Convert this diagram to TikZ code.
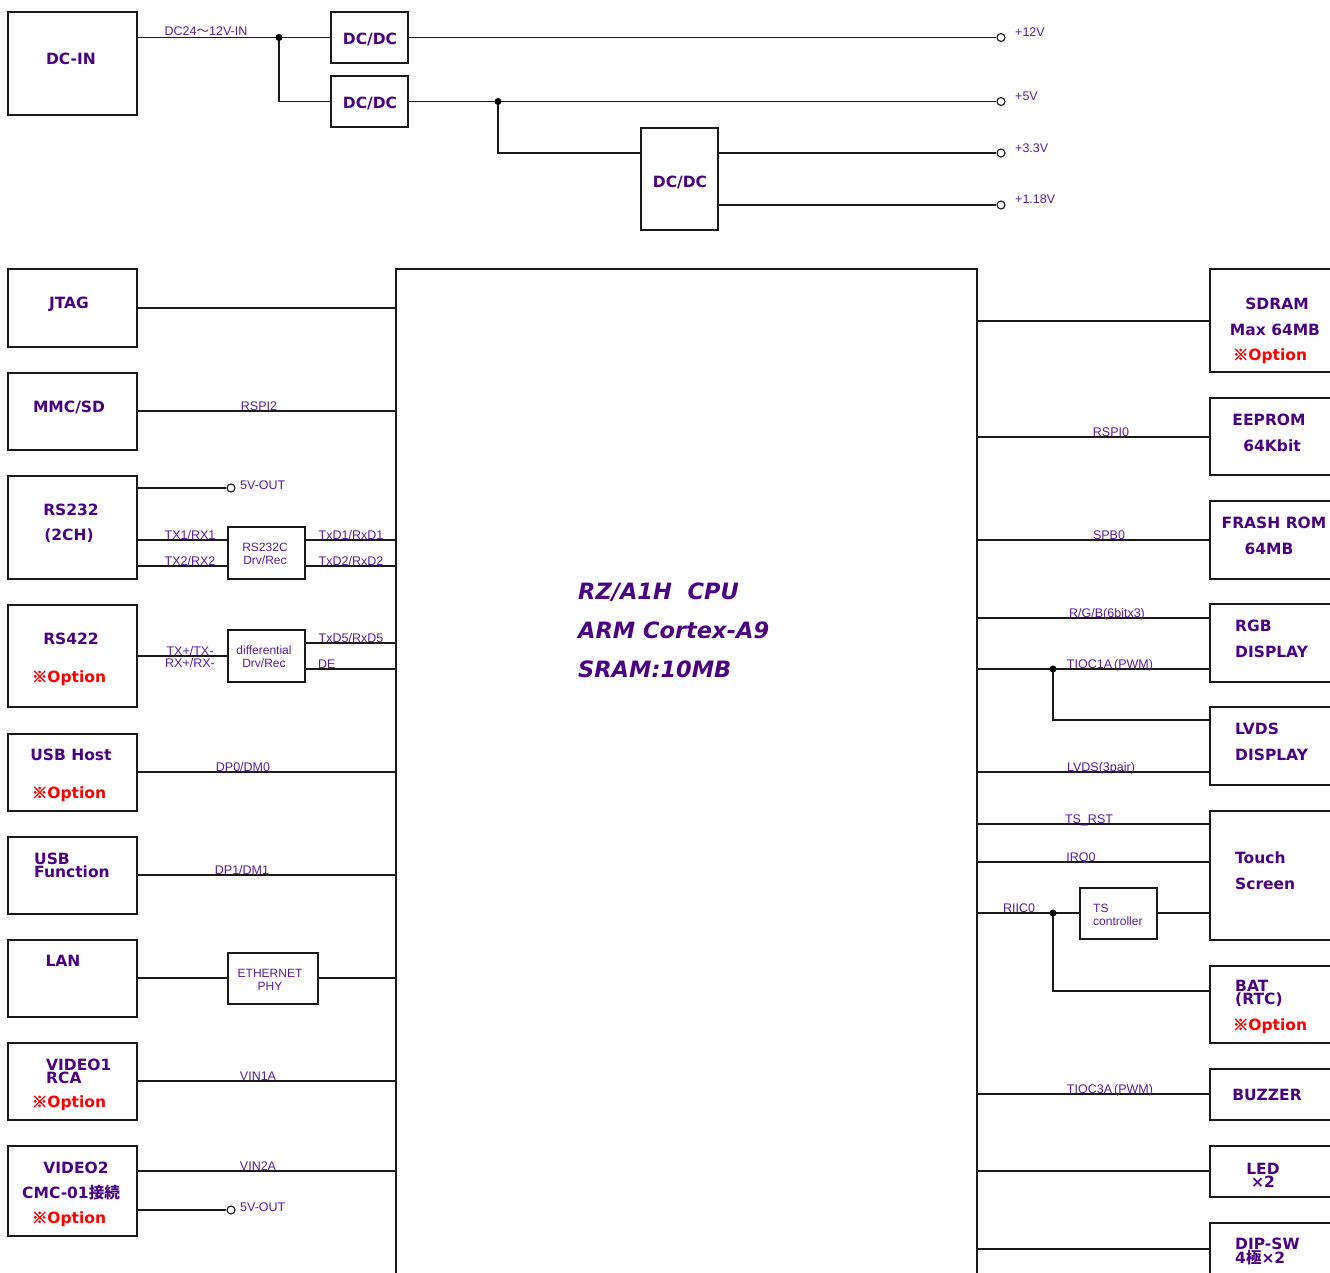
\documentclass[tikz,border=0pt]{standalone}
\usepackage{fontspec}
\setmainfont{Liberation Sans}
\newfontfamily\blkfont{DejaVu Sans}
\newfontfamily\jpfont{Noto Sans CJK JP}
\newfontfamily\refmarkfont{Noto Sans CJK JP}[FakeBold=3]
\newcommand\refmark{{\refmarkfont ※}}
\usetikzlibrary{calc}
\definecolor{ink}{RGB}{75,0,130}
\definecolor{sigc}{RGB}{88,30,155}
\definecolor{wirec}{RGB}{25,25,25}
\newcommand\blkbox[5]{\node[box, minimum width={#4-#2}, minimum height={#5-#3}] (#1) at ({(#2+#4)/2},{(#3+#5)/2}) {};}
\begin{document}
\begin{tikzpicture}[x=1pt,y=-1pt,
  box/.style={draw=wirec, line width=1.3pt, inner sep=0pt},
  wire/.style={draw=wirec, line width=1.3pt},
  blk/.style={text=ink, font=\blkfont\bfseries\fontsize{15.5}{13}\selectfont, inner sep=0pt, align=center},
  blkl/.style={blk, align=left, anchor=west},
  opt/.style={text=red, font=\blkfont\bfseries\fontsize{15.5}{13}\selectfont, inner sep=0pt},
  sg/.style={text=sigc, font=\fontsize{12.5}{13}\selectfont, inner sep=0pt, anchor=base},
  sgl/.style={sg, anchor=base west},
  small/.style={text=sigc, font=\fontsize{12}{13}\selectfont, inner sep=0pt, align=center},
  cputxt/.style={text=ink, font=\blkfont\bfseries\itshape\fontsize{22.5}{26}\selectfont, inner sep=0pt, anchor=base west},
  term/.style={circle, draw=wirec, line width=1.1pt, fill=white, minimum size=8pt, inner sep=0pt},
  dot/.style={circle, fill=black, minimum size=7pt, inner sep=0pt}]
\useasboundingbox (0,0) rectangle (1330,1273);
\clip (0,0) rectangle (1330,1273);

% ---------- power section ----------
\blkbox{dcin}{8}{12}{137}{115}
\blkbox{dcdcA}{331}{12}{408}{63}
\blkbox{dcdcB}{331}{76}{408}{127}
\blkbox{dcdcC}{641}{128}{718}{230}
\node[blk] (ldcin) at (71,59) {DC-IN};
\node[blk] (ldcA) at (370,39) {DC/DC};
\node[blk] (ldcB) at (370,103) {DC/DC};
\node[blk] (ldcC) at (680,182) {DC/DC};
\node[term] (t12) at (1001,37.5) {};
\node[term] (t5) at (1001,101.5) {};
\node[term] (t33) at (1001,153) {};
\node[term] (t118) at (1001,205) {};
\draw[wire] (dcin.east |- t12) -- (dcdcA.west);
\draw[wire] (279,37.5) |- (dcdcB.west);
\draw[wire] (dcdcA.east) -- (t12.west);
\draw[wire] (dcdcB.east) -- (t5.west);
\draw[wire] (498,101.5) |- (dcdcC.west |- t33);
\draw[wire] (dcdcC.east |- t33) -- (t33.west);
\draw[wire] (dcdcC.east |- t118) -- (t118.west);
\node[dot] (j1) at (279,37.5) {};
\node[dot] (j2) at (498,101.5) {};
\node[sg] (ldcinl) at (206,36) {DC24{\jpfont ～}12V-IN};
\node[sgl] (l12) at (1015,37) {+12V};
\node[sgl] (l5) at (1015,101) {+5V};
\node[sgl] (l33) at (1015,153) {+3.3V};
\node[sgl] (l118) at (1015,204) {+1.18V};

% ---------- CPU ----------
\blkbox{cpu}{396}{269}{977}{1320}
\node[cputxt] (c1) at (578,599) {RZ/A1H\ \ CPU};
\node[cputxt] (c2) at (578,638) {ARM Cortex-A9};
\node[cputxt] (c3) at (578,677) {SRAM:10MB};

% ---------- left side ----------
\blkbox{jtag}{8}{269}{137}{347}
\node[blk] (ljtag) at (69,304) {JTAG};
\draw[wire] (jtag.east |- 0,308) -- (cpu.west |- 0,308);

\blkbox{mmc}{8}{373}{137}{450}
\node[blk] (lmmc) at (69,407) {MMC/SD};
\draw[wire] (mmc.east |- 0,411) -- (cpu.west |- 0,411);
\node[sg] (lrspi2) at (259,410) {RSPI2};

\blkbox{rs232}{8}{476}{137}{579}
\node[blk] (lrs232a) at (71,510) {RS232};
\node[blk] (lrs232b) at (69,536) {(2CH)};
\blkbox{rs232c}{228}{527}{305}{579}
\node[small] (lrs232c) at (265,554) {RS232C\\Drv/Rec};
\node[term] (o1) at (231,488) {};
\draw[wire] (rs232.east |- o1) -- (o1.west);
\node[sgl] (lo1) at (240,489) {5V-OUT};
\draw[wire] (rs232.east |- 0,540) -- (rs232c.west |- 0,540);
\draw[wire] (rs232.east |- 0,566) -- (rs232c.west |- 0,566);
\draw[wire] (rs232c.east |- 0,540) -- (cpu.west |- 0,540);
\draw[wire] (rs232c.east |- 0,566) -- (cpu.west |- 0,566);
\node[sg] (ltx1) at (190,539) {TX1/RX1};
\node[sg] (ltx2) at (190,565) {TX2/RX2};
\node[sg] (ltxd1) at (351,539) {TxD1/RxD1};
\node[sg] (ltxd2) at (351,565) {TxD2/RxD2};

\blkbox{rs422}{8}{605}{137}{707}
\node[blk] (lrs422) at (71,639) {RS422};
\node[opt] (ors422) at (69,678) {\refmark Option};
\blkbox{diff}{228}{630}{305}{682}
\node[small] (ldiff) at (264,657) {differential\\Drv/Rec};
\draw[wire] (rs422.east |- 0,656) -- (diff.west |- 0,656);
\draw[wire] (diff.east |- 0,643) -- (cpu.west |- 0,643);
\draw[wire] (diff.east |- 0,669) -- (cpu.west |- 0,669);
\node[sg] (ltxp) at (190,655) {TX+/TX-};
\node[sg] (lrxp) at (190,667) {RX+/RX-};
\node[sg] (ltxd5) at (351,642) {TxD5/RxD5};
\node[sgl] (lde) at (318,668) {DE};

\blkbox{usbh}{8}{734}{137}{811}
\node[blk] (lusbh) at (71,755) {USB Host};
\node[opt] (ousbh) at (69,794) {\refmark Option};
\draw[wire] (usbh.east |- 0,772) -- (cpu.west |- 0,772);
\node[sg] (ldp0) at (243,771) {DP0/DM0};

\blkbox{usbf}{8}{837}{137}{914}
\node[blkl] (lusbf) at (34,865) {USB\\Function};
\draw[wire] (usbf.east |- 0,875) -- (cpu.west |- 0,875);
\node[sg] (ldp1) at (242,874) {DP1/DM1};

\blkbox{lan}{8}{940}{137}{1017}
\node[blk] (llan) at (63,961) {LAN};
\blkbox{eth}{228}{953}{318}{1004}
\node[small] (leth) at (270,980) {ETHERNET\\PHY};
\draw[wire] (lan.east |- 0,978) -- (eth.west |- 0,978);
\draw[wire] (eth.east |- 0,978) -- (cpu.west |- 0,978);

\blkbox{video1}{8}{1043}{137}{1120}
\node[blkl] (lv1) at (46,1071) {VIDEO1\\RCA};
\node[opt] (ov1) at (69,1103) {\refmark Option};
\draw[wire] (video1.east |- 0,1081) -- (cpu.west |- 0,1081);
\node[sg] (lvin1) at (258,1080) {VIN1A};

\blkbox{video2}{8}{1146}{137}{1236}
\node[blk] (lv2a) at (76,1168) {VIDEO2};
\node[blk] (lv2b) at (71,1193) {CMC-01{\jpfont 接続}};
\node[opt] (ov2) at (69,1219) {\refmark Option};
\draw[wire] (video2.east |- 0,1171) -- (cpu.west |- 0,1171);
\node[sg] (lvin2) at (258,1170) {VIN2A};
\node[term] (o2) at (231,1210) {};
\draw[wire] (video2.east |- o2) -- (o2.west);
\node[sgl] (lo2) at (240,1211) {5V-OUT};

% ---------- right side ----------
\blkbox{sdram}{1210}{269}{1345}{372}
\node[blk] (lsd1) at (1277,304) {SDRAM};
\node[blk] (lsd2) at (1275,330) {Max 64MB};
\node[opt] (osd) at (1270,356) {\refmark Option};
\draw[wire] (cpu.east |- 0,321) -- (sdram.west |- 0,321);

\blkbox{eeprom}{1210}{398}{1345}{475}
\node[blk] (lee1) at (1269,420) {EEPROM};
\node[blk] (lee2) at (1272,446) {64Kbit};
\draw[wire] (cpu.east |- 0,437) -- (eeprom.west |- 0,437);
\node[sg] (lrspi0) at (1111,436) {RSPI0};

\blkbox{flash}{1210}{501}{1345}{579}
\node[blk] (lfl1) at (1274,523) {FRASH ROM};
\node[blk] (lfl2) at (1269,549) {64MB};
\draw[wire] (cpu.east |- 0,540) -- (flash.west |- 0,540);
\node[sg] (lspb0) at (1109,539) {SPB0};

\blkbox{rgb}{1210}{604}{1345}{682}
\node[blkl] (lrgb1) at (1235,626) {RGB};
\node[blkl] (lrgb2) at (1235,652) {DISPLAY};
\draw[wire] (cpu.east |- 0,618) -- (rgb.west |- 0,618);
\node[sg] (lrgbs) at (1107,617) {R/G/B(6bitx3)};
\draw[wire] (cpu.east |- 0,669) -- (rgb.west |- 0,669);
\node[sg] (ltioc1) at (1110,668) {TIOC1A\,(PWM)};

\blkbox{lvds}{1210}{707}{1345}{785}
\node[blkl] (llv1) at (1235,729) {LVDS};
\node[blkl] (llv2) at (1235,755) {DISPLAY};
\draw[wire] (1053,669) |- (lvds.west |- 0,720);
\node[dot] (j3) at (1053,669) {};
\draw[wire] (cpu.east |- 0,772) -- (lvds.west |- 0,772);
\node[sg] (llvds) at (1101,771) {LVDS(3pair)};

\blkbox{touch}{1210}{811}{1345}{940}
\node[blkl] (lts1) at (1235,858) {Touch};
\node[blkl] (lts2) at (1235,884) {Screen};
\draw[wire] (cpu.east |- 0,824) -- (touch.west |- 0,824);
\node[sg] (ltsrst) at (1089,823) {TS\_RST};
\draw[wire] (cpu.east |- 0,862) -- (touch.west |- 0,862);
\node[sg] (lirq) at (1081,861) {IRQ0};
\blkbox{tsc}{1080}{888}{1157}{939}
\node[small, align=left, anchor=west] (ltsc) at (1093,915) {TS\\controller};
\draw[wire] (cpu.east |- 0,913) -- (tsc.west |- 0,913);
\draw[wire] (tsc.east |- 0,913) -- (touch.west |- 0,913);
\node[sg] (lriic) at (1019,912) {RIIC0};

\blkbox{bat}{1210}{966}{1345}{1043}
\node[blkl] (lbat) at (1235,993) {BAT\\(RTC)};
\node[opt] (obat) at (1270,1026) {\refmark Option};
\draw[wire] (1053,913) |- (bat.west |- 0,991);
\node[dot] (j4) at (1053,913) {};

\blkbox{buzzer}{1210}{1069}{1345}{1120}
\node[blk] (lbuz) at (1267,1095) {BUZZER};
\draw[wire] (cpu.east |- 0,1094) -- (buzzer.west |- 0,1094);
\node[sg] (ltioc3) at (1110,1093) {TIOC3A\,(PWM)};

\blkbox{led}{1210}{1146}{1345}{1197}
\node[blk] (lled) at (1263,1175) {LED\\×2};
\draw[wire] (cpu.east |- 0,1171) -- (led.west |- 0,1171);

\blkbox{dip}{1210}{1223}{1345}{1320}
\node[blk, align=left, anchor=west, font=\blkfont\bfseries\fontsize{15.5}{14}\selectfont] (ldip) at (1235,1251) {DIP-SW\\4{\jpfont 極}×2};
\draw[wire] (cpu.east |- 0,1249) -- (dip.west |- 0,1249);
\end{tikzpicture}
\end{document}
